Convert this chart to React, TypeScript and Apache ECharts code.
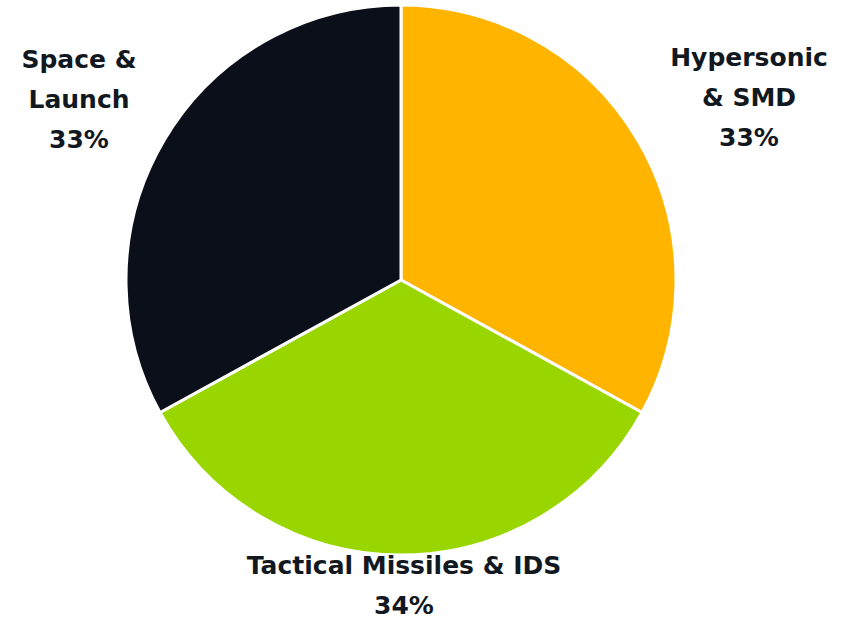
import React, { useEffect, useRef } from "react";
import * as echarts from "echarts";

const categories = ["Hypersonic\n& SMD", "Tactical Missiles & IDS", "Space &\nLaunch"];
const values = [33, 34, 33];
const colors = ["#FFB500", "#99D600", "#0B0F19"];
const labelAnchors: [number, number][] = [
  [749, 97],
  [404, 585],
  [79, 99],
];

export default function App() {
  const ref = useRef<HTMLDivElement>(null);
  useEffect(() => {
    if (!ref.current) return;
    const chart = echarts.init(ref.current, undefined, { renderer: "svg" });
    chart.setOption({
      animation: false,
      backgroundColor: "#ffffff",
      series: [
        {
          type: "pie",
          center: [401, 280],
          radius: [0, 275],
          startAngle: 90,
          clockwise: true,
          data: categories.map((name, i) => ({
            name,
            value: values[i],
            itemStyle: { color: colors[i] },
          })),
          itemStyle: { borderColor: "#ffffff", borderWidth: 3 },
          label: {
            show: true,
            position: "outside",
            overflow: "none",
            formatter: (p: any) => `${p.name}\n${p.value}%`,
            fontFamily: "DejaVu Sans",
            fontWeight: "bold",
            fontSize: 25,
            lineHeight: 40,
            color: "#111820",
            align: "center",
          },
          labelLine: { show: false },
          labelLayout: (params: any) => {
            const a = labelAnchors[params.dataIndex];
            return { x: a[0], y: a[1], align: "center", verticalAlign: "middle" };
          },
        },
      ],
    });
    return () => chart.dispose();
  }, []);
  return (
    <div
      ref={ref}
      style={{ position: "fixed", left: 0, top: 0, width: 841, height: 619 }}
    />
  );
}
